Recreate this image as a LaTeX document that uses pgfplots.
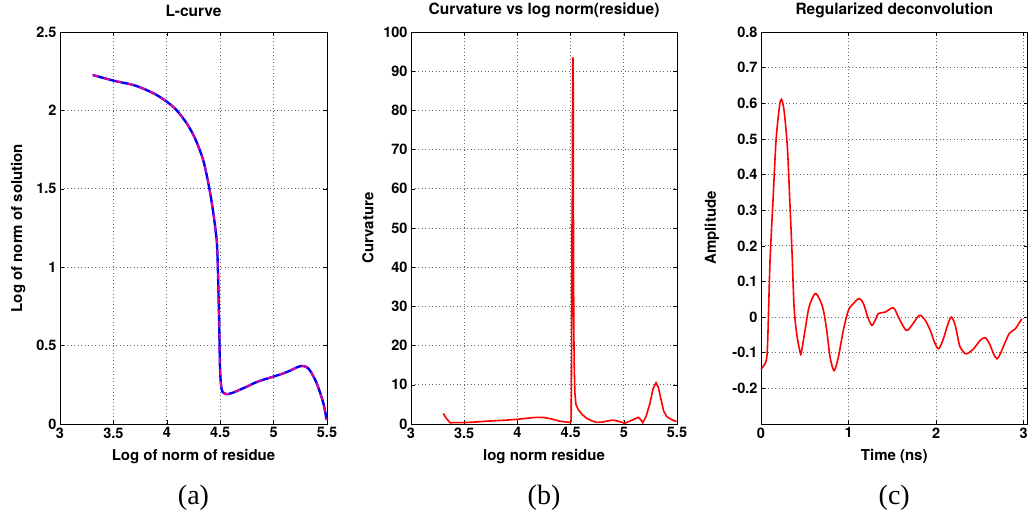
\documentclass[border=0pt]{standalone}
\usepackage{fontspec}
\setmainfont{TeX Gyre Heros}
\newfontfamily\panelfont{Liberation Serif}
\usepackage{pgfplots}
\pgfplotsset{compat=1.18}
\pgfplotsset{
  mystyle/.style={
    scale only axis,
    anchor=south west,
    axis line style={black, line width=0.8pt},
    tick align=inside,
    major tick length=4pt,
    tick style={black, line width=0.6pt},
    grid=major,
    major grid style={black!60, line width=0.7pt, dash pattern=on 1pt off 2.5pt},
    ticklabel style={font=\bfseries\fontsize{14.5}{16}\selectfont},
    label style={font=\bfseries\fontsize{15}{17}\selectfont},
    title style={font=\bfseries\fontsize{15.5}{17}\selectfont, at={(axis description cs:0.5,1.039)}, anchor=center},
    xlabel style={at={(axis description cs:0.5,-0.083)}, anchor=center},
    clip=false,
  }
}
\begin{document}
\begin{tikzpicture}[x=1pt,y=1pt]
\path[use as bounding box] (0,0) rectangle (1030,515);
% (a)
\begin{axis}[mystyle, at={(60pt,91pt)}, width=267pt, height=392pt,
  xmin=3, xmax=5.5, ymin=0, ymax=2.5,
  xtick={3,3.5,4,4.5,5,5.5}, xticklabels={3,3.5,4,4.5,5,5.5},
  ytick={0,0.5,1,1.5,2,2.5}, yticklabels={0,0.5,1,1.5,2,2.5},
  title={L-curve}, xlabel={Log of norm of residue}, ylabel={Log of norm of solution},
  ylabel style={at={(axis description cs:-0.157,0.5)}, anchor=center}]
\addplot[blue, line width=2.4pt, smooth] coordinates {
(3.306,2.226)(3.5,2.19)(3.687,2.162)(3.81,2.13)(3.9,2.1)(4.0,2.056)(4.093,2.0)(4.186,1.918)(4.264,1.822)(4.342,1.68)(4.398,1.503)(4.436,1.344)(4.467,1.173)(4.474,1.08)(4.48,0.95)(4.485,0.8)(4.489,0.684)(4.494,0.5)(4.498,0.365)(4.505,0.27)(4.514,0.22)(4.53,0.198)(4.56,0.19)(4.62,0.2)(4.748,0.238)(4.85,0.27)(4.997,0.302)(5.08,0.32)(5.154,0.34)(5.22,0.362)(5.263,0.37)(5.3,0.366)(5.325,0.355)(5.36,0.32)(5.404,0.259)(5.44,0.19)(5.466,0.132)(5.485,0.07)(5.497,0.026)};
\addplot[magenta, line width=1.8pt, dash pattern=on 6pt off 6pt, smooth] coordinates {
(3.306,2.226)(3.5,2.19)(3.687,2.162)(3.81,2.13)(3.9,2.1)(4.0,2.056)(4.093,2.0)(4.186,1.918)(4.264,1.822)(4.342,1.68)(4.398,1.503)(4.436,1.344)(4.467,1.173)(4.474,1.08)(4.48,0.95)(4.485,0.8)(4.489,0.684)(4.494,0.5)(4.498,0.365)(4.505,0.27)(4.514,0.22)(4.53,0.198)(4.56,0.19)(4.62,0.2)(4.748,0.238)(4.85,0.27)(4.997,0.302)(5.08,0.32)(5.154,0.34)(5.22,0.362)(5.263,0.37)(5.3,0.366)(5.325,0.355)(5.36,0.32)(5.404,0.259)(5.44,0.19)(5.466,0.132)(5.485,0.07)(5.497,0.026)};
\node[font=\panelfont\fontsize{28}{30}\selectfont] at (axis description cs:0.5,-0.189) {(a)};
\end{axis}
% (b)
\begin{axis}[mystyle, at={(411pt,91pt)}, width=266pt, height=392pt,
  xmin=3, xmax=5.5, ymin=0, ymax=100,
  xtick={3,3.5,4,4.5,5,5.5}, xticklabels={3,3.5,4,4.5,5,5.5},
  ytick={0,10,20,30,40,50,60,70,80,90,100}, yticklabels={0,10,20,30,40,50,60,70,80,90,100},
  title={Curvature vs log norm(residue)}, xlabel={log norm residue}, ylabel={Curvature},
  ylabel style={at={(axis description cs:-0.162,0.5)}, anchor=center}]
\addplot[red, line width=1.6pt] coordinates {
(3.304,2.7)(3.33,1.5)(3.367,0.33)(3.5,0.35)(3.6,0.5)(3.7,0.7)(3.8,0.85)(3.9,1.0)(4.0,1.2)(4.1,1.5)(4.18,1.7)(4.25,1.65)(4.32,1.3)(4.4,0.7)(4.46,0.5)(4.494,0.4)(4.505,0.6)(4.51,20)(4.512,51)(4.514,35)(4.517,70)(4.52,93.3)(4.524,93.3)(4.526,60)(4.528,38)(4.531,22)(4.534,15)(4.54,8)(4.55,5)(4.573,3.6)(4.61,2.4)(4.651,1.45)(4.7,0.8)(4.745,0.4)(4.8,0.5)(4.85,0.8)(4.9,1.0)(4.95,0.7)(5.01,0.2)(5.07,0.9)(5.136,1.7)(5.16,1.1)(5.178,0.33)(5.21,2.0)(5.246,5.3)(5.275,9.0)(5.303,10.5)(5.325,9.3)(5.35,6.2)(5.375,3.3)(5.403,1.9)(5.45,1.1)(5.497,0.6)};
\node[font=\panelfont\fontsize{28}{30}\selectfont] at (axis description cs:0.5,-0.189) {(b)};
\end{axis}
% (c)
\begin{axis}[mystyle, at={(761pt,91pt)}, width=266.5pt, height=392pt,
  xmin=0, xmax=3.045, ymin=-0.3, ymax=0.8,
  xtick={0,1,2,3}, xticklabels={0,1,2,3},
  ytick={-0.2,-0.1,0,0.1,0.2,0.3,0.4,0.5,0.6,0.7,0.8}, yticklabels={-0.2,-0.1,0,0.1,0.2,0.3,0.4,0.5,0.6,0.7,0.8},
  title={Regularized deconvolution}, xlabel={Time (ns)}, ylabel={Amplitude},
  ylabel style={at={(axis description cs:-0.184,0.5)}, anchor=center}]
\addplot[red, line width=1.6pt, smooth] coordinates {
(0,-0.145)(0.046,-0.131)(0.072,-0.094)(0.095,0.094)(0.103,0.159)(0.141,0.347)(0.172,0.496)(0.21,0.59)(0.233,0.611)(0.263,0.58)(0.301,0.478)(0.332,0.309)(0.355,0.178)(0.378,0.028)(0.408,-0.047)(0.446,-0.098)(0.46,-0.1)(0.503,-0.037)(0.549,0.028)(0.618,0.066)(0.675,0.047)(0.713,0.019)(0.751,-0.037)(0.789,-0.112)(0.835,-0.15)(0.884,-0.112)(0.941,-0.037)(0.999,0.019)(1.056,0.038)(1.121,0.052)(1.17,0.038)(1.22,0.0)(1.266,-0.023)(1.304,-0.009)(1.342,0.01)(1.418,0.014)(1.513,0.026)(1.57,0)(1.658,-0.037)(1.723,-0.023)(1.81,0.005)(1.876,-0.009)(1.933,-0.037)(1.982,-0.07)(2.028,-0.089)(2.078,-0.065)(2.131,-0.023)(2.173,0.0)(2.219,-0.023)(2.268,-0.079)(2.314,-0.098)(2.352,-0.103)(2.428,-0.089)(2.505,-0.065)(2.562,-0.058)(2.611,-0.075)(2.657,-0.103)(2.696,-0.117)(2.734,-0.103)(2.791,-0.07)(2.84,-0.045)(2.905,-0.033)(2.943,-0.019)(2.981,-0.005)};
\node[font=\panelfont\fontsize{28}{30}\selectfont] at (axis description cs:0.5,-0.189) {(c)};
\end{axis}
\end{tikzpicture}
\end{document}
